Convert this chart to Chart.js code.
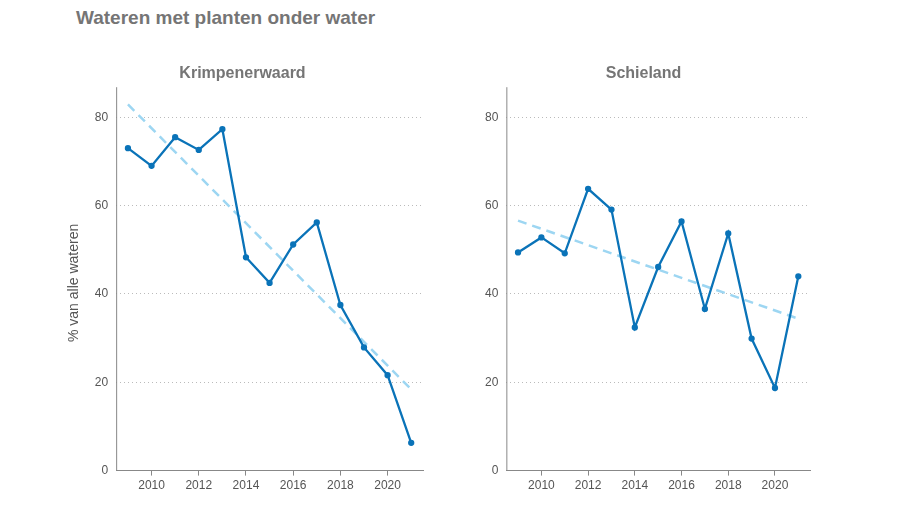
<!DOCTYPE html>
<html><head><meta charset="utf-8">
<script src="https://cdn.jsdelivr.net/npm/chart.js@4"></script>
<style>
body{margin:0;background:#fff;font-family:Arial,"Liberation Sans",sans-serif}
#t{position:absolute;left:76px;top:7px;font-size:19px;font-weight:bold;color:#757575}
.c{position:absolute;top:58px;height:438px}
</style></head><body>
<div id="t">Wateren met planten onder water</div>
<div class="c" style="left:62px;width:376px"><canvas id="a"></canvas></div>
<div class="c" style="left:452px;width:373px"><canvas id="b"></canvas></div>
<script>
const years=[2009,2010,2011,2012,2013,2014,2015,2016,2017,2018,2019,2020,2021];
const krimpen=[73.0,69.0,75.5,72.6,77.3,48.3,42.5,51.2,56.2,37.5,27.9,21.6,6.3];
const krimpenTrend=[82.9,18.4];
const schieland=[49.4,52.8,49.2,63.8,59.1,32.4,46.1,56.4,36.6,53.7,29.9,18.7,44.0];
const schielandTrend=[56.6,34.4];
const xTicks=[2010,2012,2014,2016,2018,2020];
const yTicks=[0,20,40,60,80];
const axisLine={id:'axisLine',afterDraw(c){const a=c.chartArea,x=c.ctx;x.save();x.strokeStyle='#888';x.lineWidth=1;x.beginPath();x.moveTo(a.left+0.5,a.top-8);x.lineTo(a.left+0.5,a.bottom);x.stroke();x.restore();}};
function make(id,title,vals,trend,showY){
 new Chart(document.getElementById(id),{type:'line',
  data:{datasets:[
   {data:years.map((y,i)=>({x:y,y:vals[i]})),borderColor:'#0a73b8',backgroundColor:'#0a73b8',borderWidth:2.3,pointRadius:2,tension:0},
   {data:[{x:years[0],y:trend[0]},{x:years[years.length-1],y:trend[1]}],borderColor:'#9dd6f2',borderWidth:2.5,borderDash:[9,6],pointRadius:0}
  ]},
  options:{responsive:true,maintainAspectRatio:false,animation:false,
   layout:{padding:{left:showY?0:25,right:15,top:0,bottom:0}},
   plugins:{legend:{display:false},tooltip:{enabled:false},
    title:{display:true,text:title,color:'#757575',font:{size:16,weight:'bold'},padding:{top:6,bottom:12}}},
   scales:{
    x:{type:'linear',min:2008.5,max:2021.5,afterBuildTicks:s=>{s.ticks=xTicks.map(v=>({value:v}))},
      grid:{display:true,drawOnChartArea:false,color:'#888',tickLength:5},border:{color:'#888'},
      ticks:{color:'#555',font:{size:12},callback:v=>String(v)}},
    y:{min:0,max:85,afterBuildTicks:s=>{s.ticks=yTicks.map(v=>({value:v}))},
      grid:{color:'#bbb',drawTicks:false,lineWidth:1},border:{display:false,dash:[1,3]},
      ticks:{color:'#555',font:{size:12},padding:8},
      title:{display:showY,text:'% van alle wateren',color:'#555',font:{size:14}}}
   }},
  plugins:[axisLine]
 });
}
Chart.defaults.font.family='Arial, "Liberation Sans", sans-serif';
make('a','Krimpenerwaard',krimpen,krimpenTrend,true);
make('b','Schieland',schieland,schielandTrend,false);
</script></body></html>
